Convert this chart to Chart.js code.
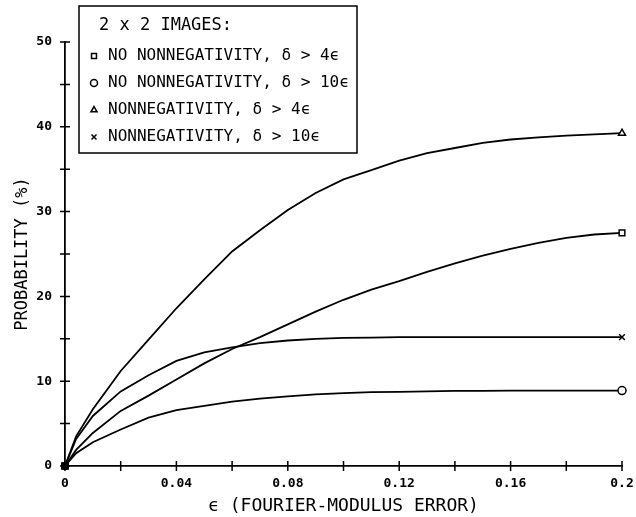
<!DOCTYPE html>
<html>
<head>
<meta charset="utf-8">
<script src="https://cdn.jsdelivr.net/npm/chart.js@4/dist/chart.umd.min.js"></script>
<style>
  html, body { margin: 0; padding: 0; background: #fff; }
  #wrap { width: 636px; height: 517px; }
</style>
</head>
<body>
<div id="wrap"><canvas id="myChart" width="636" height="517"></canvas></div>
<script>
// values
const eps = [0, 0.004, 0.01, 0.02, 0.03, 0.04, 0.05, 0.06, 0.07, 0.08, 0.09, 0.10,
             0.11, 0.12, 0.13, 0.14, 0.15, 0.16, 0.17, 0.18, 0.19, 0.20];
const noNonneg4  = [0, 1.9, 3.9, 6.5, 8.3, 10.2, 12.1, 13.8, 15.2, 16.7, 18.2, 19.6,
                    20.8, 21.8, 22.9, 23.9, 24.8, 25.6, 26.3, 26.9, 27.3, 27.5];
const noNonneg10 = [0, 1.5, 2.8, 4.3, 5.7, 6.6, 7.1, 7.6, 7.95, 8.2, 8.45, 8.6,
                    8.7, 8.75, 8.8, 8.85, 8.85, 8.9, 8.9, 8.9, 8.9, 8.9];
const nonneg4    = [0, 3.5, 6.7, 11.2, 14.9, 18.6, 22.0, 25.3, 27.8, 30.2, 32.2, 33.8,
                    34.9, 36.0, 36.9, 37.5, 38.1, 38.5, 38.75, 38.95, 39.1, 39.25];
const nonneg10   = [0, 3.2, 5.9, 8.8, 10.7, 12.4, 13.4, 14.0, 14.5, 14.8, 15.0, 15.1,
                    15.15, 15.2, 15.2, 15.2, 15.2, 15.2, 15.2, 15.2, 15.2, 15.2];

const seriesLabels = ["NO NONNEGATIVITY, δ > 4ϵ", "NO NONNEGATIVITY, δ > 10ϵ",
                      "NONNEGATIVITY, δ > 4ϵ", "NONNEGATIVITY, δ > 10ϵ"];
const seriesMarks = ["rect", "circle", "triangle", "crossRot"];
const legendTitle = "2 x 2 IMAGES:";

const xTickLabels = ["0", "0.04", "0.08", "0.12", "0.16", "0.2"];
const yTickLabels = ["0", "10", "20", "30", "40", "50"];

const FONT = "'DejaVu Sans Mono', monospace";
Chart.defaults.font.family = FONT;
Chart.defaults.color = "#000";

function makeSet(vals, i) {
  const last = vals.length - 1;
  return {
    label: seriesLabels[i],
    data: vals.map((v, k) => ({ x: eps[k], y: v })),
    borderColor: "#000",
    borderWidth: 1.8,
    tension: 0,
    fill: false,
    clip: false,
    pointRadius: c => (c.dataIndex === 0 || c.dataIndex === last) ? 4 : 0,
    pointStyle: c => c.dataIndex === 0 ? "rect" : seriesMarks[i],
    pointBackgroundColor: c => c.dataIndex === 0 ? "#000" : "#fff",
    pointBorderColor: "#000",
    pointBorderWidth: 1.5
  };
}

// ticks crossing the axes
const crossTicks = {
  id: "crossTicks",
  afterDraw(chart) {
    const ctx = chart.ctx;
    const xs = chart.scales.x, ys = chart.scales.y;
    ctx.save();
    ctx.strokeStyle = "#000";
    ctx.lineWidth = 1.5;
    ctx.beginPath();
    xs.ticks.forEach(t => {
      const px = xs.getPixelForValue(t.value);
      ctx.moveTo(px, ys.bottom - 5);
      ctx.lineTo(px, ys.bottom + 5);
    });
    ys.ticks.forEach(t => {
      const py = ys.getPixelForValue(t.value);
      ctx.moveTo(xs.left - 5, py);
      ctx.lineTo(xs.left + 5, py);
    });
    ctx.stroke();
    ctx.restore();
  }
};

// boxed legend in the upper left
const boxLegend = {
  id: "boxLegend",
  afterDraw(chart) {
    const ctx = chart.ctx;
    ctx.save();
    ctx.strokeStyle = "#000";
    ctx.lineWidth = 1.5;
    ctx.strokeRect(79, 6, 278, 147);
    ctx.fillStyle = "#000";
    ctx.textBaseline = "middle";
    ctx.font = "17px " + FONT;
    ctx.fillText(legendTitle, 99, 26);
    ctx.font = "16px " + FONT;
    seriesLabels.forEach((lab, i) => {
      const y = 56 + i * 27;
      ctx.fillStyle = "#fff";
      Chart.helpers.drawPoint(ctx, { pointStyle: seriesMarks[i], radius: 3.5, rotation: 0, borderWidth: 1.5 }, 94, y);
      ctx.fillStyle = "#000";
      ctx.fillText(lab, 108, y);
    });
    ctx.restore();
  }
};

const ctx = document.getElementById("myChart").getContext("2d");
const myChart = new Chart(ctx, {
  type: "line",
  data: {
    datasets: [
      makeSet(noNonneg4, 0),
      makeSet(noNonneg10, 1),
      makeSet(nonneg4, 2),
      makeSet(nonneg10, 3)
    ]
  },
  options: {
    responsive: false,
    animation: false,
    layout: { padding: { top: 42, right: 14, left: 0, bottom: 0 } },
    plugins: { legend: { display: false }, tooltip: { enabled: false } },
    scales: {
      x: {
        type: "linear",
        min: 0,
        max: 0.2,
        afterFit: s => { s.height = 51; s.paddingLeft = 0; s.paddingRight = 0; },
        afterBuildTicks: s => {
          s.ticks = [];
          for (let k = 0; k <= 10; k++) s.ticks.push({ value: k * 0.02 });
        },
        ticks: {
          autoSkip: false,
          maxRotation: 0,
          padding: 10,
          font: { size: 13, weight: "bold" },
          callback: (v) => {
            const k = Math.round(v / 0.02);
            return k % 2 === 0 ? xTickLabels[k / 2] : "";
          }
        },
        grid: { display: false, drawTicks: false },
        border: { display: true, color: "#000", width: 1.8 },
        title: {
          display: true,
          text: "ϵ (FOURIER-MODULUS ERROR)",
          font: { size: 18 },
          padding: { top: 2, bottom: 0 }
        }
      },
      y: {
        min: 0,
        max: 50,
        afterFit: s => { s.width = 65; s.paddingTop = 0; s.paddingBottom = 0; },
        afterBuildTicks: s => {
          s.ticks = [];
          for (let k = 0; k <= 10; k++) s.ticks.push({ value: k * 5 });
        },
        ticks: {
          autoSkip: false,
          padding: 13,
          font: { size: 13, weight: "bold" },
          callback: (v) => {
            const k = Math.round(v / 5);
            return k % 2 === 0 ? yTickLabels[k / 2] : "";
          }
        },
        grid: { display: false, drawTicks: false },
        border: { display: true, color: "#000", width: 1.8 },
        title: {
          display: true,
          text: "PROBABILITY (%)",
          font: { size: 17 },
          padding: { top: 12, bottom: 0 }
        }
      }
    }
  },
  plugins: [crossTicks, boxLegend]
});
</script>
</body>
</html>
